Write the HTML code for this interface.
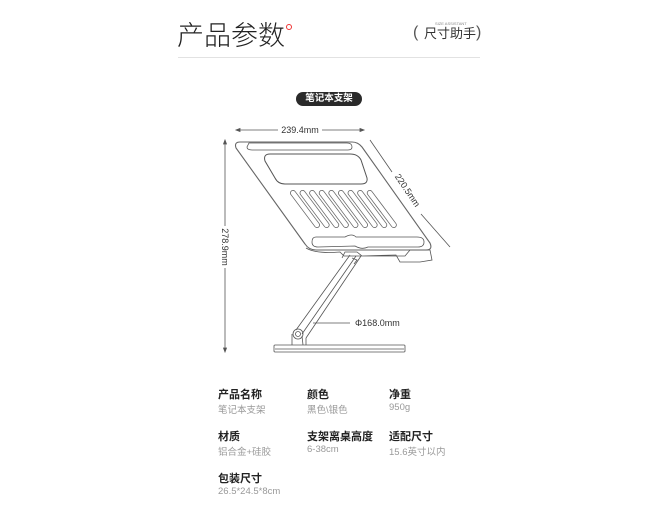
<!DOCTYPE html>
<html><head><meta charset="utf-8"><style>
html,body{margin:0;padding:0;background:#fff;}
body{width:658px;height:515px;position:relative;overflow:hidden;font-family:"Liberation Sans","Noto Sans CJK SC",sans-serif;}
.t{position:absolute;white-space:nowrap;}
.h{font-size:11px;font-weight:bold;color:#222;}
.v{font-size:9.5px;color:#999;}
</style></head><body>
<div class="t" style="left:177px;top:18px;font-size:27px;line-height:36px;color:#222;font-weight:300;">产品参数</div>
<div class="t" style="left:286px;top:24px;width:4px;height:4px;border:1.5px solid #e33;border-radius:50%;"></div>
<div class="t" style="left:413px;top:22px;font-size:16px;line-height:22px;color:#555;">(</div>
<div class="t" style="left:424px;top:25px;font-size:13px;line-height:17px;color:#333;">尺寸助手</div>
<div class="t" style="left:435px;top:21px;font-size:4px;color:#888;">SIZE ASSISTANT</div>
<div class="t" style="left:476px;top:22px;font-size:16px;line-height:22px;color:#555;">)</div>
<div class="t" style="left:178px;top:57px;width:302px;height:1px;background:#e2e2e2;"></div>
<div class="t" style="left:296px;top:92px;width:66px;height:14px;border-radius:7px;background:#2a2a2a;color:#fff;font-size:9.5px;font-weight:bold;text-align:center;line-height:14px;">笔记本支架</div>

<svg class="t" style="left:0;top:0" width="658" height="515" viewBox="0 0 658 515">
<g stroke="#555" fill="none" stroke-width="0.8">
<line x1="236" y1="130" x2="278" y2="130"/><line x1="322" y1="130" x2="364" y2="130"/>
<path d="M236 130l4-1.5v3zM364 130l-4-1.5v3z" fill="#555"/>
<line x1="225" y1="140" x2="225" y2="226"/><line x1="225" y1="268" x2="225" y2="352"/>
<path d="M225 140l-1.5 4h3zM225 352l-1.5-4h3z" fill="#555"/>
<line x1="370" y1="140" x2="392" y2="172"/><line x1="421" y1="214" x2="450" y2="247"/>
<path d="M240 142 L352 142 Q358 142 362 147 L430 243 Q433 250 426 250 L316 250 Q309 250 305 244 L236 148 Q234 142 240 142Z" stroke="#666" stroke-width="1.1"/>
<path d="M249 143 L347 143 Q352 143 352 147 Q352 150 348 150 L252 150 Q247 150 247 147Z"/>
<path d="M270 154 L350 154 Q358 154 361 160 L367 178 Q368 184 361 184 L285 184 Q278 184 275 178 L265 161 Q263 154 270 154Z" stroke-width="1"/>
<path d="M316 237 L345 237 Q352 233 356 237 L417 237 Q424 237 424 242 Q424 247 418 247 L368 247 Q362 250 355 246 L318 247 Q312 247 312 242 Q312 237 316 237Z"/>
<path d="M306 248 Q316 254 340 252 L344 256 L405 256 L410 250 L430 250 L432 260 L420 262 L400 262 L396 255 L362 256 L357 252 L345 252 L342 258"/>
<path d="M350 255 L296 330 M361 256 L306 338 M356 256 L302 334"/>
<path d="M352 258 l5 2 l-3 4"/>
<circle cx="298" cy="334" r="5"/><circle cx="298" cy="334" r="2.5"/>
<path d="M292 334 L292 345 M306 338 L306 345 M302 336 L303 345"/>
<line x1="313" y1="323" x2="350" y2="323"/>
<rect x="274" y="345" width="131" height="7" rx="1"/>
<line x1="275" y1="349" x2="404" y2="349"/>
</g>
<g stroke-linecap="round">
<g stroke="#666" stroke-width="6">
<line x1="293" y1="193" x2="317" y2="225"/><line x1="302.6" y1="193" x2="326.6" y2="225"/><line x1="312.2" y1="193" x2="336.2" y2="225"/><line x1="321.8" y1="193" x2="345.8" y2="225"/><line x1="331.4" y1="193" x2="355.4" y2="225"/><line x1="341" y1="193" x2="365" y2="225"/><line x1="350.6" y1="193" x2="374.6" y2="225"/><line x1="360.2" y1="193" x2="384.2" y2="225"/><line x1="369.8" y1="193" x2="393.8" y2="225"/>
</g>
<g stroke="#fff" stroke-width="4.4">
<line x1="293" y1="193" x2="317" y2="225"/><line x1="302.6" y1="193" x2="326.6" y2="225"/><line x1="312.2" y1="193" x2="336.2" y2="225"/><line x1="321.8" y1="193" x2="345.8" y2="225"/><line x1="331.4" y1="193" x2="355.4" y2="225"/><line x1="341" y1="193" x2="365" y2="225"/><line x1="350.6" y1="193" x2="374.6" y2="225"/><line x1="360.2" y1="193" x2="384.2" y2="225"/><line x1="369.8" y1="193" x2="393.8" y2="225"/>
</g>
</g>
<g font-family="Liberation Sans, sans-serif" font-size="9" fill="#333">
<text x="300" y="133" text-anchor="middle">239.4mm</text>
<text x="355" y="326">Φ168.0mm</text>
<text transform="translate(222,247) rotate(90)" text-anchor="middle">278.9mm</text>
<text transform="translate(405,192) rotate(56)" text-anchor="middle">220.5mm</text>
</g>
</svg>

<div class="t h" style="left:218px;top:386px;">产品名称</div>
<div class="t v" style="left:218px;top:402px;">笔记本支架</div>
<div class="t h" style="left:307px;top:386px;">颜色</div>
<div class="t v" style="left:307px;top:402px;">黑色\银色</div>
<div class="t h" style="left:389px;top:386px;">净重</div>
<div class="t v" style="left:389px;top:402px;">950g</div>
<div class="t h" style="left:218px;top:428px;">材质</div>
<div class="t v" style="left:218px;top:444px;">铝合金+硅胶</div>
<div class="t h" style="left:307px;top:428px;">支架离桌高度</div>
<div class="t v" style="left:307px;top:444px;">6-38cm</div>
<div class="t h" style="left:389px;top:428px;">适配尺寸</div>
<div class="t v" style="left:389px;top:444px;">15.6英寸以内</div>
<div class="t h" style="left:218px;top:470px;">包装尺寸</div>
<div class="t v" style="left:218px;top:486px;">26.5*24.5*8cm</div>
</body></html>
